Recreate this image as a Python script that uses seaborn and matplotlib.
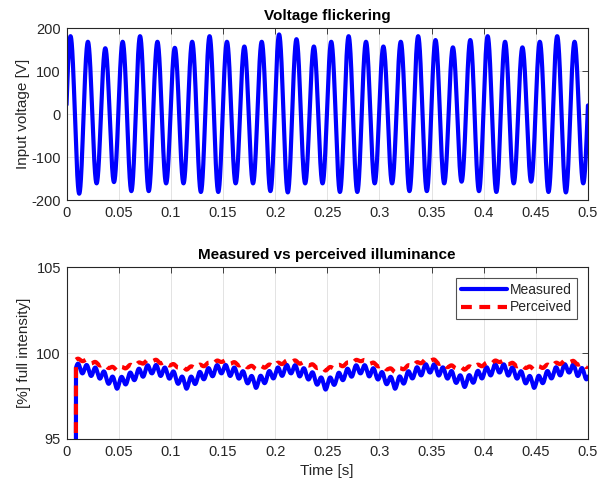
import numpy as np
import pandas as pd
import matplotlib
matplotlib.use("Agg")
import matplotlib.pyplot as plt
import seaborn as sns

# ---------------- data ----------------
# Voltage: 60 Hz mains, peak value of each positive / negative half-cycle (V)
volt_freq = 60.0
volt_phase = 0.12
volt_pos_peaks = [181, 168, 153, 168, 181, 168, 154, 168, 181, 168, 157, 168, 185, 174, 157,
                  168, 181, 168, 157, 168, 181, 172, 155, 172, 181, 168, 155, 168, 181, 168]
volt_neg_peaks = [-185, -161, -158, -179, -179, -161, -161, -181, -181, -161, -161, -179, -182, -161, -161,
                  -181, -181, -161, -161, -179, -179, -161, -157, -179, -181, -161, -157, -181, -182, -161]

# Illuminance: lamp switches on at t_on, then mean level sampled every 1/60 s
t_on = 0.009
illum_t0 = 0.015
illum_dt = 1.0 / 60.0
measured_mid = [99.1, 98.8, 98.2, 98.7, 99.1, 98.8, 98.2, 98.75, 99.1, 98.8, 98.25, 98.8, 99.1, 98.75, 98.15,
                98.7, 99.1, 98.75, 98.2, 98.8, 99.15, 98.8, 98.3, 98.8, 99.15, 98.8, 98.25, 98.8, 99.15, 98.75]
perceived_mid = [99.6, 99.35, 99.05, 99.3, 99.6, 99.35, 99.1, 99.3, 99.55, 99.35, 99.13, 99.3, 99.55, 99.35, 99.05,
                 99.3, 99.6, 99.3, 98.95, 99.3, 99.65, 99.25, 99.1, 99.3, 99.55, 99.3, 99.1, 99.3, 99.55, 99.25]
measured_ripple = 0.28
perceived_ripple = 0.07
ripple_freq = 120.0
ripple_peak_t = 0.011
off_level = 0.0

xticks = [0, 0.05, 0.1, 0.15, 0.2, 0.25, 0.3, 0.35, 0.4, 0.45, 0.5]
xtick_labels = ["0", "0.05", "0.1", "0.15", "0.2", "0.25", "0.3", "0.35", "0.4", "0.45", "0.5"]
volt_yticks = [-200, -100, 0, 100, 200]
illum_yticks = [95, 100, 105]

# ---------------- build the sampled traces ----------------
t = np.linspace(0, 0.5, 6001)
theta = 2 * np.pi * volt_freq * t + volt_phase
cyc = np.clip((theta // (2 * np.pi)).astype(int), 0, len(volt_pos_peaks) - 1)
s = np.sin(theta)
amp = np.where(s >= 0, np.array(volt_pos_peaks)[cyc], -np.array(volt_neg_peaks)[cyc])
voltage = amp * s

sample_t = illum_t0 + illum_dt * np.arange(len(measured_mid))
ripple = np.cos(2 * np.pi * ripple_freq * (t - ripple_peak_t))
meas = np.interp(t, sample_t, measured_mid) + measured_ripple * ripple
perc = np.interp(t, sample_t, perceived_mid) + perceived_ripple * ripple
meas[t < t_on] = off_level
perc[t < t_on] = off_level

df_v = pd.DataFrame({"t": t, "v": voltage})
df_i = pd.DataFrame({"t": np.concatenate([t, t]),
                     "val": np.concatenate([meas, perc]),
                     "series": ["Measured"] * len(t) + ["Perceived"] * len(t)})

# ---------------- style ----------------
sns.set_theme(style="white")
plt.rcParams["font.family"] = ["Liberation Sans", "DejaVu Sans"]
plt.rcParams["axes.unicode_minus"] = False
dark = (0.15, 0.15, 0.15)

fig = plt.figure(figsize=(6.08, 4.87), dpi=100)
ax1 = fig.add_axes([0.1094, 0.589, 0.8576, 0.3535])
ax2 = fig.add_axes([0.1094, 0.0986, 0.8576, 0.3531])

sns.lineplot(data=df_v, x="t", y="v", ax=ax1, color="#0000ff", lw=3, estimator=None)
sns.lineplot(data=df_i, x="t", y="val", hue="series", style="series",
             palette={"Measured": "#0000ff", "Perceived": "#ff0000"},
             dashes={"Measured": "", "Perceived": (2.6, 1.8)},
             ax=ax2, lw=3, estimator=None)

for ax in (ax1, ax2):
    ax.set_xlim(0, 0.5)
    ax.set_xticks(xticks)
    ax.set_xticklabels(xtick_labels)
    ax.grid(True, color="#e3e3e3", lw=0.7)
    ax.set_axisbelow(True)
    ax.tick_params(direction="in", top=True, right=True, length=4, width=0.6,
                   colors=dark, labelsize=10.5, labelcolor=dark, pad=4)
    for sp in ax.spines.values():
        sp.set_color(dark)
        sp.set_linewidth(0.8)
    ax.set_xlabel("")

ax1.set_ylim(-200, 200)
ax1.set_yticks(volt_yticks)
ax1.set_ylabel("Input voltage [V]", fontsize=11, color=dark, labelpad=1)
ax1.set_title("Voltage flickering", fontsize=11, fontweight="bold", color="black", pad=6)

ax2.set_ylim(95, 105)
ax2.set_yticks(illum_yticks)
ax2.set_ylabel("[%] full intensity]", fontsize=11, color=dark, labelpad=4)
ax2.set_xlabel("Time [s]", fontsize=11, color=dark, labelpad=4)
ax2.set_title("Measured vs perceived illuminance", fontsize=11, fontweight="bold", color="black", pad=6)

leg = ax2.legend(loc="upper right", fontsize=10, frameon=True, fancybox=False,
                 handlelength=3.3, borderaxespad=0.8, handletextpad=0.2,
                 labelspacing=0.25, borderpad=0.35)
leg.get_frame().set_edgecolor(dark)
leg.get_frame().set_linewidth(0.8)
for line in leg.get_lines():
    line.set_linewidth(3)

fig.savefig("out.png", dpi=100)
